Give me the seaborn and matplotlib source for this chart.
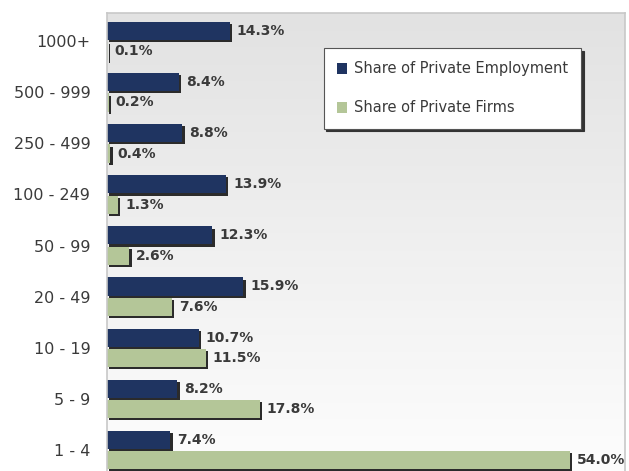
import numpy as np
import pandas as pd
import matplotlib
matplotlib.use("Agg")
import matplotlib.pyplot as plt
import matplotlib.patheffects as pe
import seaborn as sns

# Firm size classes (employees) and the two shares, in percent
size_classes = ["1000+", "500 - 999", "250 - 499", "100 - 249", "50 - 99",
                "20 - 49", "10 - 19", "5 - 9", "1 - 4"]
employment_share = [14.3, 8.4, 8.8, 13.9, 12.3, 15.9, 10.7, 8.2, 7.4]
firm_share = [0.1, 0.2, 0.4, 1.3, 2.6, 7.6, 11.5, 17.8, 54.0]
series_names = ["Share of Private Employment", "Share of Private Firms"]

df = pd.DataFrame({
    "size": size_classes * 2,
    "share": employment_share + firm_share,
    "series": [series_names[0]] * len(size_classes) + [series_names[1]] * len(size_classes),
})

sns.set_theme(style="white")
plt.rcParams["font.family"] = ["DejaVu Sans"]
text_color = "#3a3a3a"

fig = plt.figure(figsize=(6.29, 4.71), dpi=100)
ax = fig.add_axes([107 / 629, 0.0, 518 / 629, 1 - 13 / 471])

# soft vertical gradient behind the bars
grad = np.linspace(0, 1, 256).reshape(-1, 1)
cmap = matplotlib.colors.LinearSegmentedColormap.from_list("bg", ["#e2e2e2", "#fdfdfd"])
ax.imshow(grad, aspect="auto", cmap=cmap, extent=[0, 1, 0, 1],
          transform=ax.transAxes, zorder=0)

palette = {series_names[0]: "#1f3461", series_names[1]: "#b4c698"}
sns.barplot(data=df, y="size", x="share", hue="series", order=size_classes,
            hue_order=series_names, palette=palette, orient="h", width=0.8,
            saturation=1, ax=ax, zorder=2, legend=True)

# thin each bar slightly so the pair is separated by a small gap, then add a drop shadow
shadow = [pe.SimplePatchShadow(offset=(1.6, -1.6), shadow_rgbFace="#2b2b2b", alpha=1.0),
          pe.Normal()]
for patch in ax.patches:
    h = patch.get_height()
    shrink = 0.045
    patch.set_y(patch.get_y() + shrink / 2)
    patch.set_height(h - shrink)
    patch.set_path_effects(shadow)
    patch.set_edgecolor("none")

for cont in ax.containers:
    ax.bar_label(cont, labels=[f"{v:.1f}%" for v in cont.datavalues], padding=5,
                 fontsize=10, color=text_color, fontweight="bold")

ax.set_xlim(0, 60.4)
ax.set_ylim(8.41, -0.55)
ax.set_xlabel("")
ax.set_ylabel("")
ax.set_xticks([])
ax.tick_params(axis="y", length=0, pad=12, labelsize=11.5, labelcolor=text_color)

for side in ["top", "right", "left"]:
    ax.spines[side].set_visible(True)
    ax.spines[side].set_color("#c8c8c8")
    ax.spines[side].set_linewidth(1.2)
ax.spines["bottom"].set_visible(False)

leg = ax.legend(loc="upper left", bbox_to_anchor=(0.418, 0.923), frameon=True,
                fancybox=False, shadow={"color": "#333333", "alpha": 1.0, "ox": 2, "oy": -2},
                fontsize=10.5, handlelength=0.7, handleheight=0.8, handletextpad=0.5,
                labelspacing=1.65, borderpad=0.9, borderaxespad=0)
leg.get_frame().set_edgecolor("#555555")
leg.get_frame().set_linewidth(0.8)
for handle in leg.legend_handles:
    handle.set_path_effects([])
for t in leg.get_texts():
    t.set_color(text_color)

fig.savefig("out.png", dpi=100, facecolor="white")
